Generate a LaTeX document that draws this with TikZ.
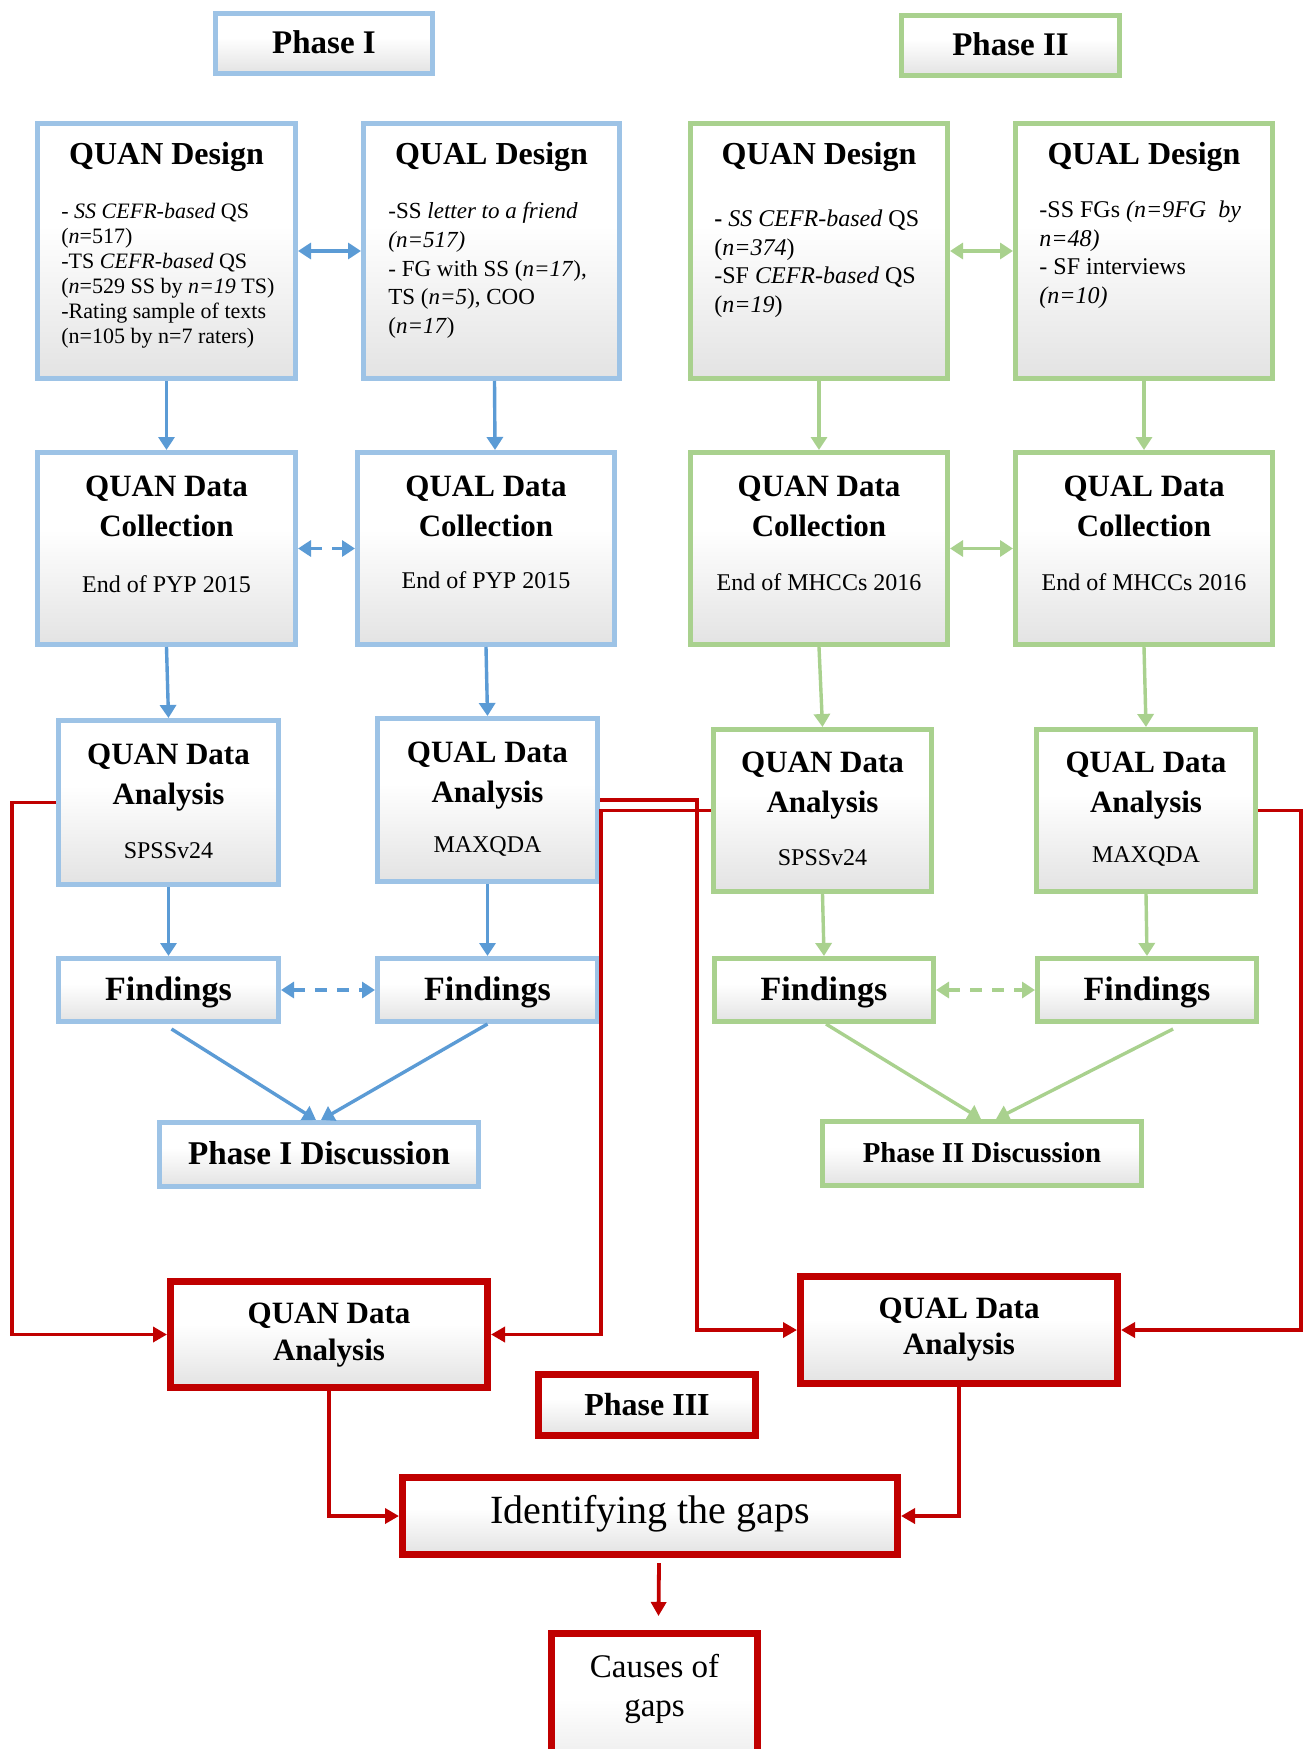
\documentclass[tikz,border=0pt]{standalone}
\usepackage{fontspec}
\setmainfont{Liberation Serif}
\usetikzlibrary{arrows.meta,calc,fit}

\definecolor{bluebd}{HTML}{9DC3E6}
\definecolor{bluearr}{HTML}{5B9BD5}
\definecolor{greenbd}{HTML}{A9D18E}
\definecolor{redbd}{HTML}{C00000}
\definecolor{boxgray}{HTML}{CFCFCF}
\pgfdeclareverticalshading{boxshade}{100bp}{color(0bp)=(boxgray); color(4bp)=(boxgray); color(55bp)=(white); color(100bp)=(white)}

\newcommand\fsz[2]{\fontsize{#1}{#2}\selectfont}

\tikzset{
  box/.style={shading=boxshade, draw, line width=2.5pt, inner sep=-1.25pt},
  bbox/.style={box, draw=bluebd},
  gbox/.style={box, draw=greenbd},
  rbox/.style={box, draw=redbd, line width=3.5pt, inner sep=-1.75pt},
  barr/.style={draw=bluearr, line width=1.7pt, -{Triangle[length=6.5pt,width=8pt]}},
  barrs/.style={draw=bluearr, line width=1.7pt, {Triangle[length=6.5pt,width=8pt]}-{Triangle[length=6.5pt,width=8pt]}},
  garr/.style={draw=greenbd, line width=1.7pt, -{Triangle[length=6.5pt,width=8pt]}},
  garrs/.style={draw=greenbd, line width=1.7pt, {Triangle[length=6.5pt,width=8pt]}-{Triangle[length=6.5pt,width=8pt]}},
  dsh/.style={dash pattern=on 6pt off 5pt},
  rarr/.style={draw=redbd, line width=1.9pt, -{Triangle[length=7pt,width=7.5pt]}},
  txt/.style={inner sep=0pt, anchor=base},
  body/.style={inner sep=0pt, anchor=base west},
  ttl/.style={txt, font=\fsz{16}{20}\bfseries},
  ttlb/.style={txt, font=\fsz{15.5}{20}\bfseries},
  sub/.style={txt, font=\fsz{12}{14}},
}

\begin{document}
\begin{tikzpicture}[x=0.5pt, y=-0.5pt]
\clip (0,0) rectangle (1310,1749);
\fill[white] (0,0) rectangle (1310,1749);

% ---------- phase headers ----------
\node[bbox, fit={(213,11) (435,76)}] (ph1) {};
\node[gbox, fit={(899,13) (1122,78)}] (ph2) {};
\node[txt, font=\fsz{16.5}{20}\bfseries] (ph1t) at (ph1 |- 0,54) {Phase I};
\node[txt, font=\fsz{16.5}{20}\bfseries] (ph2t) at (ph2 |- 0,56) {Phase II};

% ---------- design boxes ----------
\node[bbox, fit={(35,121) (298,381)}] (a1) {};
\node[bbox, fit={(361,121) (622,381)}] (a2) {};
\node[gbox, fit={(688,121) (950,381)}] (a3) {};
\node[gbox, fit={(1013,121) (1275,381)}] (a4) {};
\node[ttl] (a1t) at (a1 |- 0,165) {QUAN Design};
\node[ttl] (a2t) at (a2 |- 0,165) {QUAL Design};
\node[ttl] (a3t) at (a3 |- 0,165) {QUAN Design};
\node[ttl] (a4t) at (a4 |- 0,165) {QUAL Design};
\node[body, font=\fsz{11}{12.5}] (a1b) at (61,219) {\parbox[t]{125pt}{\raggedright
  - \textit{SS CEFR-based} QS\\
  (\textit{n}=517)\\
  -TS \textit{CEFR-based} QS\\
  (\textit{n}=529 SS by \textit{n=19} TS)\\
  -Rating sample of texts\\
  (n=105 by n=7 raters)}};
\node[body, font=\fsz{11.5}{14.3}] (a2b) at (388,219) {\parbox[t]{115pt}{\raggedright
  -SS \textit{letter to a friend}\\
  \textit{(n=517)}\\
  - FG with SS (\textit{n=17}),\\
  TS (\textit{n=5}), COO\\
  (\textit{n=17})}};
\node[body, font=\fsz{12}{14.2}] (a3b) at (714,227) {\parbox[t]{115pt}{\raggedright
  {\bfseries -} \textit{SS CEFR-based} QS\\
  (\textit{n=374})\\
  -SF \textit{CEFR-based} QS\\
  (\textit{n=19})}};
\node[body, font=\fsz{12}{14.2}] (a4b) at (1039,218) {\parbox[t]{115pt}{\raggedright
  -SS FGs \textit{(n=9FG\ \ by}\\
  \textit{n=48)}\\
  - SF interviews\\
  \textit{(n=10)}}};

% ---------- data collection boxes ----------
\node[bbox, fit={(35,450) (298,647)}] (b1) {};
\node[bbox, fit={(355,450) (617,647)}] (b2) {};
\node[gbox, fit={(688,450) (950,647)}] (b3) {};
\node[gbox, fit={(1013,450) (1275,647)}] (b4) {};
\node[ttlb] (b1t) at (b1 |- 0,496) {\parbox[t]{120pt}{\centering QUAN Data\\Collection}};
\node[ttlb] (b2t) at (b2 |- 0,496) {\parbox[t]{120pt}{\centering QUAL Data\\Collection}};
\node[ttlb] (b3t) at (b3 |- 0,496) {\parbox[t]{120pt}{\centering QUAN Data\\Collection}};
\node[ttlb] (b4t) at (b4 |- 0,496) {\parbox[t]{120pt}{\centering QUAL Data\\Collection}};
\node[sub] (b1s) at (b1 |- 0,592) {End of PYP 2015};
\node[sub] (b2s) at (b2 |- 0,588) {End of PYP 2015};
\node[sub] (b3s) at (b3 |- 0,590) {End of MHCCs 2016};
\node[sub] (b4s) at (b4 |- 0,590) {End of MHCCs 2016};

% ---------- data analysis boxes ----------
\node[bbox, fit={(56,718) (281,887)}] (c1) {};
\node[bbox, fit={(375,716) (600,884)}] (c2) {};
\node[gbox, fit={(711,727) (934,894)}] (c3) {};
\node[gbox, fit={(1034,727) (1258,894)}] (c4) {};
\node[ttlb] (c1t) at (c1 |- 0,764) {\parbox[t]{110pt}{\centering QUAN Data\\Analysis}};
\node[ttlb] (c2t) at (c2 |- 0,762) {\parbox[t]{110pt}{\centering QUAL Data\\Analysis}};
\node[ttlb] (c3t) at (c3 |- 0,772) {\parbox[t]{110pt}{\centering QUAN Data\\Analysis}};
\node[ttlb] (c4t) at (c4 |- 0,772) {\parbox[t]{110pt}{\centering QUAL Data\\Analysis}};
\node[sub] (c1s) at (c1 |- 0,858) {SPSSv24};
\node[sub] (c2s) at (c2 |- 0,852) {MAXQDA};
\node[sub] (c3s) at (c3 |- 0,865) {SPSSv24};
\node[sub] (c4s) at (c4 |- 0,862) {MAXQDA};

% ---------- findings ----------
\node[bbox, fit={(56,956) (281,1024)}] (d1) {};
\node[bbox, fit={(375,956) (600,1024)}] (d2) {};
\node[gbox, fit={(712,956) (936,1024)}] (d3) {};
\node[gbox, fit={(1035,956) (1259,1024)}] (d4) {};
\node[txt, font=\fsz{17}{20}\bfseries] (d1t) at (d1 |- 0,1000) {Findings};
\node[txt, font=\fsz{17}{20}\bfseries] (d2t) at (d2 |- 0,1000) {Findings};
\node[txt, font=\fsz{17}{20}\bfseries] (d3t) at (d3 |- 0,1000) {Findings};
\node[txt, font=\fsz{17}{20}\bfseries] (d4t) at (d4 |- 0,1000) {Findings};

% ---------- discussions ----------
\node[bbox, fit={(157,1120) (481,1189)}] (e1) {};
\node[gbox, fit={(820,1119) (1144,1188)}] (e2) {};
\node[txt, font=\fsz{16.6}{20}\bfseries] (e1t) at (e1 |- 0,1164) {Phase I Discussion};
\node[txt, font=\fsz{14.4}{18}\bfseries] (e2t) at (e2 |- 0,1162) {Phase II Discussion};

% ---------- phase III ----------
\node[rbox, fit={(167,1278) (491,1391)}] (f1) {};
\node[rbox, fit={(797,1273) (1121,1387)}] (f2) {};
\node[rbox, fit={(535,1371) (759,1439)}] (ph3) {};
\node[rbox, fit={(399,1474) (901,1558)}] (g) {};
\node[rbox, fit={(548,1630) (761,1800)}] (h) {};
\node[ttlb, font=\fsz{15.5}{18.5}\bfseries] (f1t) at (f1 |- 0,1323) {\parbox[t]{120pt}{\centering QUAN Data\\Analysis}};
\node[ttlb, font=\fsz{15.5}{18}\bfseries] (f2t) at (f2 |- 0,1318) {\parbox[t]{120pt}{\centering QUAL Data\\Analysis}};
\node[txt, font=\fsz{16}{20}\bfseries] (ph3t) at (ph3 |- 0,1415) {Phase III};
\node[txt, font=\fsz{20}{24}] (gt) at (g |- 0,1523) {Identifying the gaps};
\node[txt, font=\fsz{16.5}{19.5}] (ht) at (h |- 0,1677) {\parbox[t]{100pt}{\centering Causes of\\gaps}};

% ---------- blue connectors ----------
\draw[barrs] (a1.east) -- (a2.west);
\draw[barrs, dsh] (b1.east) -- (b2.west);
\draw[barrs, dsh] (d1.east) -- (d2.west);
\draw[barr] (a1.south) -- (b1.north);
\draw[barr] ($(a2.south)+(3,0)$) -- ($(b2.north)+(9,0)$);
\draw[barr] (b1.south) -- (c1.north);
\draw[barr] (b2.south) -- (c2.north);
\draw[barr] (c1.south) -- (d1.north);
\draw[barr] (c2.south) -- (d2.north);
\draw[barr] ($(d1.south)+(3,5)$) -- ($(e1.north)+(-3,0)$);
\draw[barr] (d2.south) -- ($(e1.north)+(2,0)$);

% ---------- green connectors ----------
\draw[garrs] (a3.east) -- (a4.west);
\draw[garrs] (b3.east) -- (b4.west);
\draw[garrs, dsh] (d3.east) -- (d4.west);
\draw[garr] (a3.south) -- (b3.north);
\draw[garr] (a4.south) -- (b4.north);
\draw[garr] (b3.south) -- (c3.north);
\draw[garr] (b4.south) -- (c4.north);
\draw[garr] (c3.south) -- (d3.north);
\draw[garr] (c4.south) -- (d4.north);
\draw[garr] ($(d3.south)+(2,0)$) -- ($(e2.north)+(-1,0)$);
\draw[garr] ($(d4.south)+(26,5)$) -- ($(e2.north)+(14,0)$);

% ---------- red connectors ----------
\coordinate (xl) at (12,0);
\coordinate (xm) at (601,0);
\coordinate (xn) at (697,0);
\coordinate (xr) at (1301,0);
\draw[rarr] (c1.west) -- (c1.west -| xl) |- (f1.west);
\draw[rarr] (c2.east) -- (c2.east -| xn) |- (f2.west);
\draw[rarr] (c3.west) -- (c3.west -| xm) |- (f1.east);
\draw[rarr] (c4.east) -- (c4.east -| xr) |- (f2.east);
\draw[rarr] (f1.south) |- (g.west);
\draw[rarr] (f2.south) |- (g.east);
\draw[rarr] ($(g.south)+(9,5)$) -- ($(h.north)+(4,-14)$);
\end{tikzpicture}
\end{document}
